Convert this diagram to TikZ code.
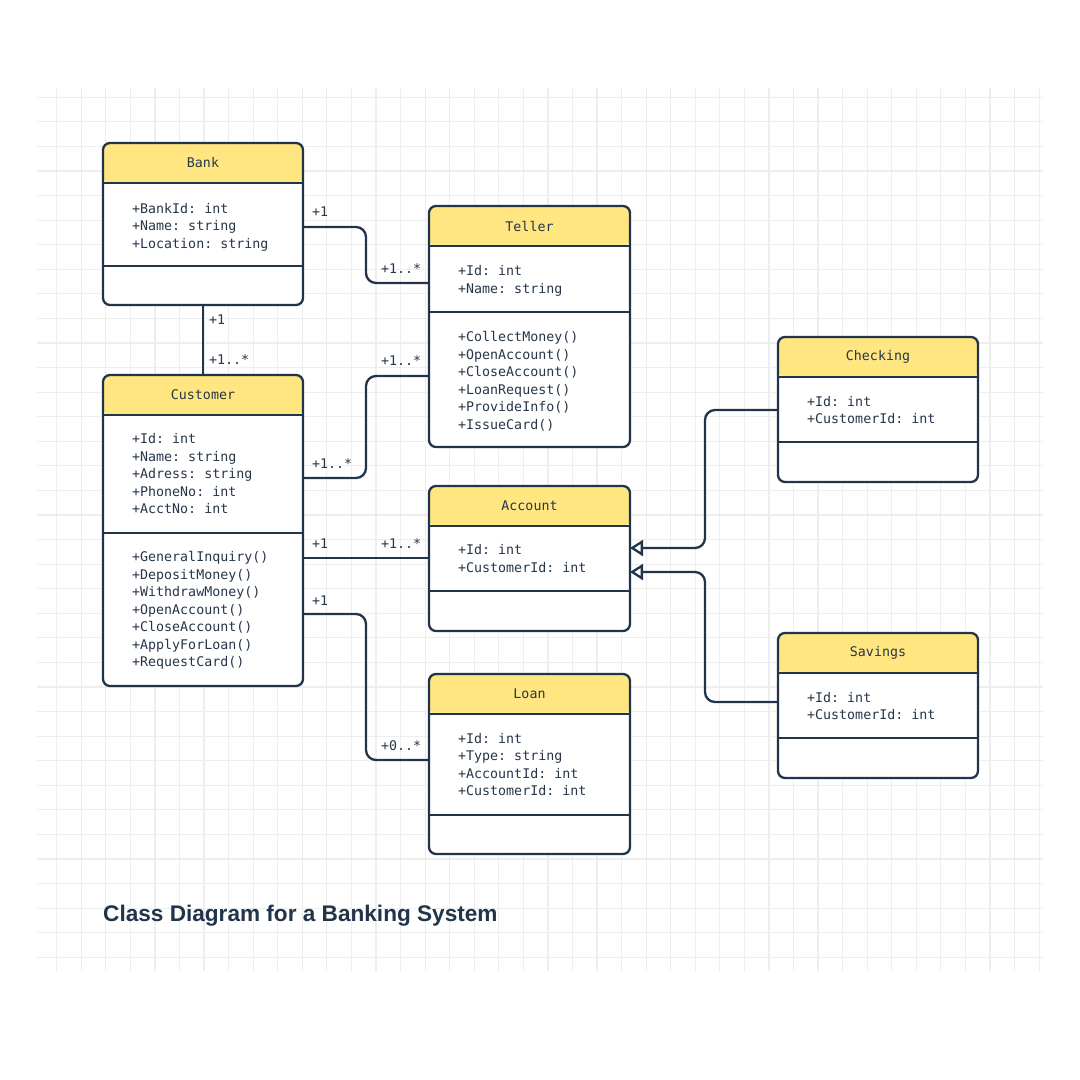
\documentclass[tikz,border=0pt]{standalone}
\usepackage{fontspec}
\setmainfont{Liberation Sans}
\setmonofont{DejaVu Sans Mono}
\usetikzlibrary{arrows.meta}
\definecolor{ink}{HTML}{22344A}
\definecolor{hdr}{HTML}{FFE680}
\definecolor{gridc}{HTML}{EEEEEE}
\definecolor{txt}{HTML}{26364A}
\tikzset{
  gridline/.style={draw=gridc, line width=1.2pt},
  classbox/.style={draw=ink, fill=white, line width=2.3pt, rounded corners=7pt,
    inner sep=0pt, outer sep=0pt, anchor=north west,
    path picture={\fill[hdr] (path picture bounding box.north west) rectangle ([yshift=-40pt]path picture bounding box.north east);
      \draw[ink, line width=2.3pt] ([yshift=-40pt]path picture bounding box.north west) -- ([yshift=-40pt]path picture bounding box.north east);}},
  divider/.style={draw=ink, line width=2.3pt},
  conn/.style={draw=ink, line width=2.3pt, rounded corners=10pt},
  gen/.style={conn, -{Triangle[open, length=13pt, width=16pt, fill=white]}},
  monofont/.style={font=\ttfamily\fontsize{13.3}{16}\selectfont, text=txt, inner sep=0pt},
  mem/.style={monofont, anchor=base west},
  lab/.style={monofont, anchor=west},
  hdrtext/.style={monofont, anchor=center},
}
\newcommand\memb[4]{\foreach \t [count=\i] in {#4}{\node[mem] (#1\i) at (#2,{#3+(\i-1)*17.55}) {\t};}}
\begin{document}
\begin{tikzpicture}[x=1pt, y=-1pt]
\useasboundingbox (0,0) rectangle (1080,1080);
\fill[white] (0,0) rectangle (1080,1080);
% grid
\foreach \i in {0,...,40} \draw[gridline] ({56.7+\i*24.56},88) -- ++(0,883);
\foreach \j in {0,...,35} \draw[gridline] (37,{97.3+\j*24.57}) -- ++(1006,0);

% Bank
\node[classbox, minimum width=200pt, minimum height=162pt] (bank) at (103,143) {};
\draw[divider] ([yshift=-123pt]bank.north west) -- ([yshift=-123pt]bank.north east);
\node[hdrtext] (bankt) at ([yshift=-20pt]bank.north) {Bank};
\memb{banka}{132}{213}{+BankId: int,+Name: string,+Location: string}

% Teller
\node[classbox, minimum width=201pt, minimum height=241pt] (teller) at (429,206) {};
\draw[divider] ([yshift=-106pt]teller.north west) -- ([yshift=-106pt]teller.north east);
\node[hdrtext] (tellert) at ([yshift=-20pt]teller.north) {Teller};
\memb{tellera}{458}{275.5}{+Id: int,+Name: string}
\memb{tellerm}{458}{341.5}{+CollectMoney(),+OpenAccount(),+CloseAccount(),+LoanRequest(),+ProvideInfo(),+IssueCard()}

% Customer
\node[classbox, minimum width=200pt, minimum height=311pt] (customer) at (103,375) {};
\draw[divider] ([yshift=-158pt]customer.north west) -- ([yshift=-158pt]customer.north east);
\node[hdrtext] (customert) at ([yshift=-20pt]customer.north) {Customer};
\memb{customera}{132}{443.5}{+Id: int,+Name: string,+Adress: string,+PhoneNo: int,+AcctNo: int}
\memb{customerm}{132}{561.5}{+GeneralInquiry(),+DepositMoney(),+WithdrawMoney(),+OpenAccount(),+CloseAccount(),+ApplyForLoan(),+RequestCard()}

% Account
\node[classbox, minimum width=201pt, minimum height=145pt] (account) at (429,486) {};
\draw[divider] ([yshift=-105pt]account.north west) -- ([yshift=-105pt]account.north east);
\node[hdrtext] (accountt) at ([yshift=-20pt]account.north) {Account};
\memb{accounta}{458}{554.5}{+Id: int,+CustomerId: int}

% Loan
\node[classbox, minimum width=201pt, minimum height=180pt] (loan) at (429,674) {};
\draw[divider] ([yshift=-141pt]loan.north west) -- ([yshift=-141pt]loan.north east);
\node[hdrtext] (loant) at ([yshift=-20pt]loan.north) {Loan};
\memb{loana}{458}{743}{+Id: int,+Type: string,+AccountId: int,+CustomerId: int}

% Checking
\node[classbox, minimum width=200pt, minimum height=145pt] (checking) at (778,337) {};
\draw[divider] ([yshift=-105pt]checking.north west) -- ([yshift=-105pt]checking.north east);
\node[hdrtext] (checkingt) at ([yshift=-20pt]checking.north) {Checking};
\memb{checkinga}{807}{406}{+Id: int,+CustomerId: int}

% Savings
\node[classbox, minimum width=200pt, minimum height=145pt] (savings) at (778,633) {};
\draw[divider] ([yshift=-105pt]savings.north west) -- ([yshift=-105pt]savings.north east);
\node[hdrtext] (savingst) at ([yshift=-20pt]savings.north) {Savings};
\memb{savingsa}{807}{702}{+Id: int,+CustomerId: int}

% connectors
\draw[conn] (bank.east |- 0,227) -- (366,227) -- (366,283) -- (teller.west |- 0,283);
\draw[conn] (bank.south) -- (customer.north);
\draw[conn] (customer.east |- 0,478) -- (366,478) -- (366,376) -- (teller.west |- 0,376);
\draw[conn] (customer.east |- 0,558) -- (account.west |- 0,558);
\draw[conn] (customer.east |- 0,614) -- (366,614) -- (366,760) -- (loan.west |- 0,760);
\draw[gen] (checking.west |- 0,410) -- (705,410) -- (705,548) -- (account.east |- 0,548);
\draw[gen] (savings.west |- 0,702) -- (705,702) -- (705,572) -- (account.east |- 0,572);

% multiplicity labels
\node[lab] (l1) at (312,212) {+1};
\node[lab] (l2) at (381,269) {+1..*};
\node[lab] (l3) at (209,320) {+1};
\node[lab] (l4) at (209,360) {+1..*};
\node[lab] (l5) at (312,464) {+1..*};
\node[lab] (l6) at (381,361) {+1..*};
\node[lab] (l7) at (312,544) {+1};
\node[lab] (l8) at (381,544) {+1..*};
\node[lab] (l9) at (312,601) {+1};
\node[lab] (l10) at (381,746) {+0..*};

% title
\node[font=\bfseries\fontsize{22.6}{28}\selectfont, text=ink, anchor=base west, inner sep=0pt] (title) at (103,921.5) {Class Diagram for a Banking System};
\end{tikzpicture}
\end{document}
